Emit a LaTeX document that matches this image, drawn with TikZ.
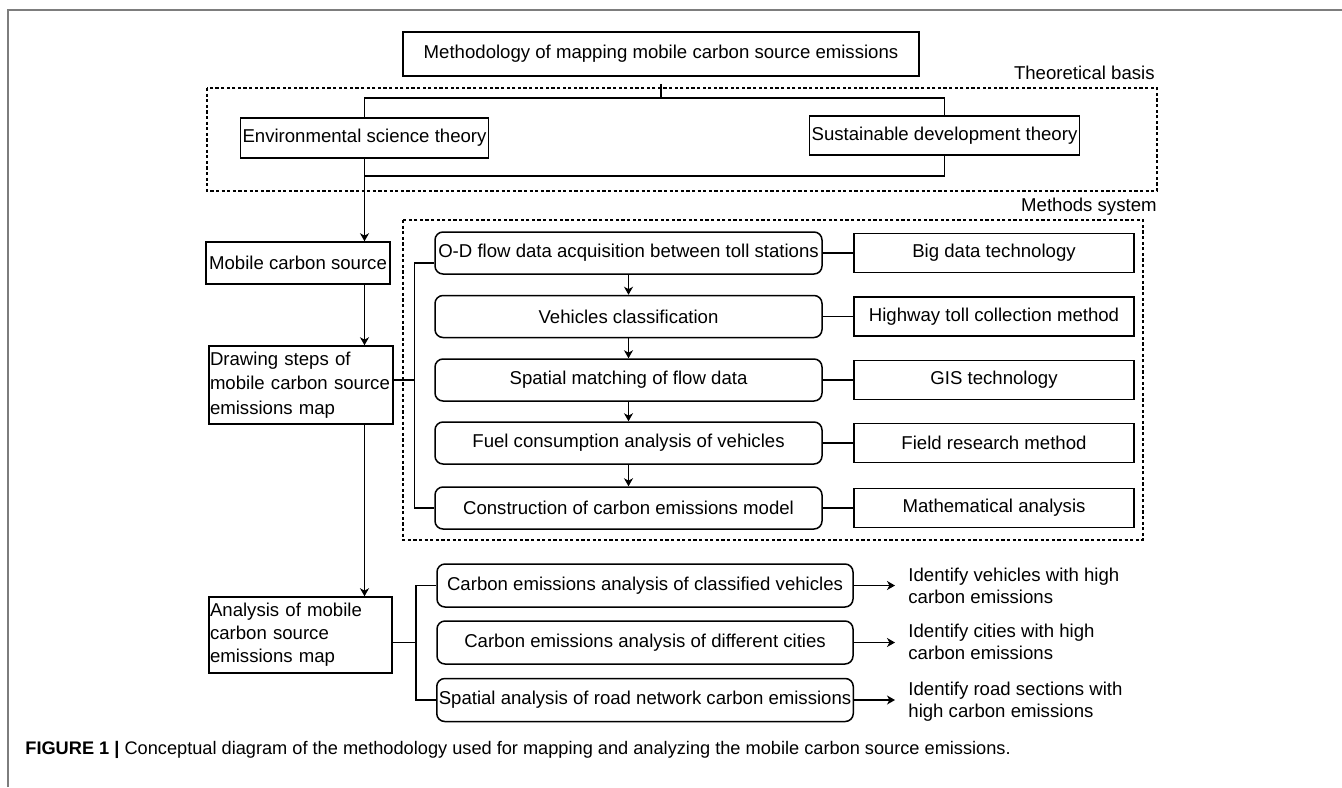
\documentclass[tikz,border=0pt]{standalone}
\usepackage{fontspec}
\setmainfont{Liberation Sans}
\usepackage{tikz}
\usetikzlibrary{arrows.meta}
\usepackage{xcolor}
\definecolor{framegray}{RGB}{125,125,125}

\begin{document}
\begin{tikzpicture}[x=0.5pt,y=-0.5pt,every node/.style={font=\fontsize{9.3}{11.5}\selectfont},
  plainbox/.style={draw,line width=0.75pt,inner sep=1pt},
  stepbox/.style={draw,line width=0.75pt,rounded corners=4pt,inner sep=1pt,minimum width=193.5pt,minimum height=21pt},
  toolbox/.style={plainbox,minimum width=140pt,minimum height=19.5pt},
  outbox/.style={draw,line width=0.75pt,rounded corners=4pt,inner sep=1pt,minimum width=208pt,minimum height=21.5pt},
  outtext/.style={anchor=west,align=left,inner sep=0pt,font=\fontsize{9.3}{11}\selectfont},
  grouplbl/.style={anchor=east,inner sep=0pt},
  group/.style={line width=0.6pt,dash pattern=on 1.6pt off 1.2pt},
  link/.style={line width=0.6pt},
  flow/.style={line width=0.6pt,-{Stealth[length=4pt,width=4.5pt,inset=1.2pt]}}]
\useasboundingbox (0,0) rectangle (1342,787);
\draw[framegray,line width=0.75pt] (8,787) -- (8,10) -- (1342,10);

% theoretical basis
\node[plainbox,minimum width=258pt,minimum height=22pt] (M0) at (661,54) {Methodology of mapping mobile carbon source emissions};
\node[plainbox,minimum width=123.5pt,minimum height=20pt] (Te) at (364.5,138) {Environmental science theory};
\node[plainbox,minimum width=134.5pt,minimum height=19.5pt] (Ts) at (944.5,135.5) {Sustainable development theory};
\draw[group] (207,88) rectangle (1157,191);
\node[grouplbl] (Lt) at (1155,73) {Theoretical basis};

% left column
\node[plainbox,minimum width=92pt,minimum height=21pt] (Mc) at (298,263) {Mobile carbon source};
\node[plainbox,inner xsep=0.5pt,text width=91pt,align=left,minimum height=39pt,font=\fontsize{9.3}{12.2}\selectfont] (Ds) at (301,385) {Drawing steps of\\mobile carbon source\\emissions map};
\node[plainbox,inner xsep=0.5pt,text width=90.5pt,align=left,minimum height=38pt] (As) at (300.5,635) {Analysis of mobile\\carbon source\\emissions map};

% methods system
\node[stepbox] (P1) at (628.5,253) {O-D flow data acquisition between toll stations};
\node[stepbox] (P2) at (628.5,316.5) {Vehicles classification};
\node[stepbox] (P3) at (628.5,380) {Spatial matching of flow data};
\node[stepbox] (P4) at (628.5,443) {Fuel consumption analysis of vehicles};
\node[stepbox] (P5) at (628.5,508) {Construction of carbon emissions model};
\node[toolbox] (T1) at (994,253) {Big data technology};
\node[toolbox] (T2) at (994,316.5) {Highway toll collection method};
\node[toolbox] (T3) at (994,380) {GIS technology};
\node[toolbox] (T4) at (994,443) {Field research method};
\node[toolbox] (T5) at (994,508) {Mathematical analysis};
\draw[group] (403,220) rectangle (1143,540);
\node[grouplbl] (Lm) at (1157,207) {Methods system};

% analysis
\node[outbox] (A1) at (645,585.5) {Carbon emissions analysis of classified vehicles};
\node[outbox] (A2) at (645,642.5) {Carbon emissions analysis of different cities};
\node[outbox] (A3) at (645,700) {Spatial analysis of road network carbon emissions};
\node[outtext] (R1) at (908,586) {Identify vehicles with high\\carbon emissions};
\node[outtext] (R2) at (908,642) {Identify cities with high\\carbon emissions};
\node[outtext] (R3) at (908,702) {Identify road sections with\\high carbon emissions};

% connectors
\coordinate (split) at (661,98);
\coordinate (merge) at (364.5,176);
\draw[link,shorten <=3.5pt] (M0.south) -- (split);
\draw[link] (Te.north) |- (split) -| (Ts.north);
\draw[link] (Ts.south) |- (merge);
\draw[flow] (Te.south) -- (Te.south |- Mc.north);
\draw[flow] (Te.south |- Mc.south) -- (Te.south |- Ds.north);
\draw[flow] (Te.south |- Ds.south) -- (Te.south |- As.north);
\draw[flow] (P1) -- (P2);
\draw[flow] (P2) -- (P3);
\draw[flow] (P3) -- (P4);
\draw[flow] (P4) -- (P5);
\draw[link] (P1) -- (T1);
\draw[link] (P2) -- (T2);
\draw[link] (P3) -- (T3);
\draw[link] (P4) -- (T4);
\draw[link] (P5) -- (T5);
\coordinate (sbus) at (414.5,380);
\draw[link] (Ds.east |- sbus) -- (sbus);
\draw[link] ([yshift=-5pt]P1.west) -| (sbus) |- (P5.west);
\coordinate (abus) at (416,642.5);
\draw[link] (As.east |- abus) -- (abus);
\draw[link] (A1.west) -| (abus) |- (A3.west);
\draw[flow,shorten >=6.5pt] (A1.east) -- (A1.east -| R1.west);
\draw[flow,shorten >=6.5pt] (A2.east) -- (A2.east -| R2.west);
\draw[flow,shorten >=6.5pt] (A3.east) -- (A3.east -| R3.west);

\node[anchor=west,inner sep=0pt,font=\fontsize{9.1}{11}\selectfont] (cap) at (25,750) {\textbf{FIGURE 1 |} Conceptual diagram of the methodology used for mapping and analyzing the mobile carbon source emissions.};
\end{tikzpicture}
\end{document}
